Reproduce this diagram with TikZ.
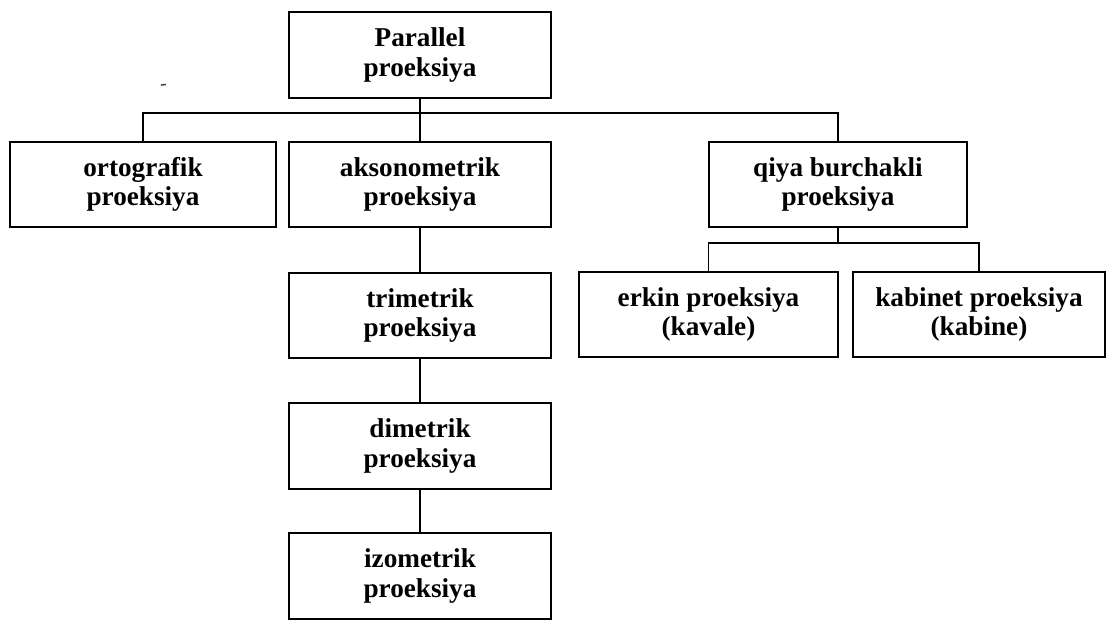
\documentclass[tikz,border=0pt]{standalone}
\usepackage{fontspec}
\setmainfont{Liberation Serif}
\begin{document}
\begin{tikzpicture}[x=0.75pt,y=-0.75pt,
  box/.style 2 args={draw, line width=1.5pt, rectangle, inner sep=0pt, align=center,
    minimum width=#1*0.75pt, minimum height=#2*0.75pt,
    font=\fontsize{20.4}{22}\selectfont\bfseries},
  link/.style={line width=1.4pt}]
\useasboundingbox (0,0) rectangle (1108,621);
\fill[white] (0,0) rectangle (1108,621);

\node[box={262}{86}] (par)   at (420,55)    {Parallel\\proeksiya};
\node[box={266}{85}] (orto)  at (143,184.5) {ortografik\\proeksiya};
\node[box={262}{85}] (akso)  at (420,184.5) {aksonometrik\\proeksiya};
\node[box={258}{85}] (qiya)  at (838,184.5) {qiya burchakli\\proeksiya};
\node[box={262}{85}] (tri)   at (420,315.5) {trimetrik\\proeksiya};
\node[box={262}{86}] (di)    at (420,446)   {dimetrik\\proeksiya};
\node[box={262}{86}] (izo)   at (420,576)   {izometrik\\proeksiya};
\node[box={259}{85}] (erkin) at (708.5,314.5) {erkin proeksiya\\(kavale)};
\node[box={252}{85}] (kab)   at (979,314.5) {kabinet proeksiya\\(kabine)};

\coordinate (b1) at (420,113);
\coordinate (b2) at (838,243);

\draw[link] (par.south) -- (akso.north);
\draw[link] (orto.north) |- (b1) -| (qiya.north);
\draw[link] (akso.south) -- (tri.north);
\draw[link] (tri.south) -- (di.north);
\draw[link] (di.south) -- (izo.north);
\draw[link] (qiya.south) -- (b2);
\draw[link] (erkin.north) |- (b2) -| (kab.north);

\draw[line width=1.2pt, black!70] (161,85) -- (166,84.5);
\end{tikzpicture}
\end{document}
